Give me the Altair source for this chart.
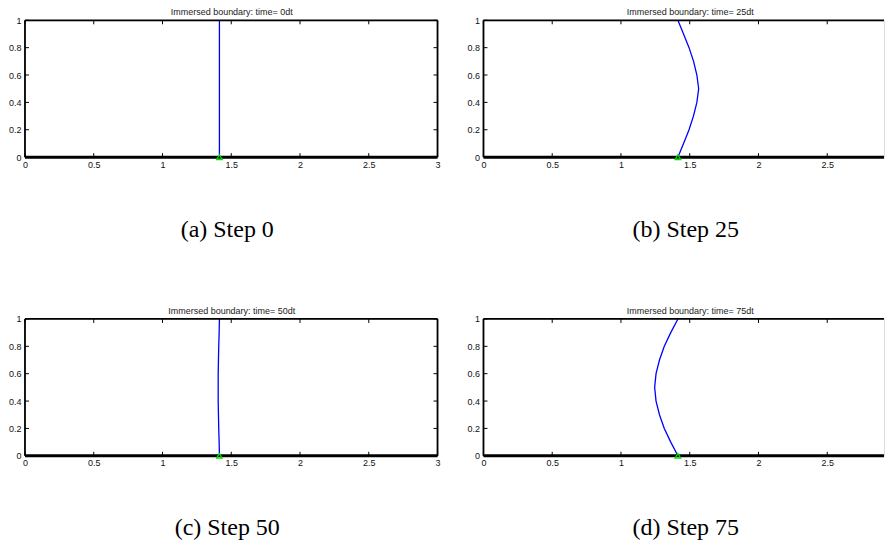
import altair as alt
import pandas as pd

# ---- data ----
y_nodes = [0.0, 0.1, 0.2, 0.3, 0.4, 0.5, 0.6, 0.7, 0.8, 0.9, 1.0]
x_step0 = [1.414, 1.414, 1.414, 1.414, 1.414, 1.414, 1.414, 1.414, 1.414, 1.414, 1.414]
x_step25 = [1.414, 1.455, 1.495, 1.527, 1.552, 1.565, 1.552, 1.528, 1.495, 1.455, 1.414]
x_step50 = [1.414, 1.412, 1.409, 1.407, 1.405, 1.405, 1.405, 1.407, 1.409, 1.412, 1.414]
x_step75 = [1.414, 1.362, 1.315, 1.280, 1.255, 1.245, 1.255, 1.280, 1.315, 1.362, 1.414]
anchor_x = [1.414]
anchor_y = [0.0]

titles = ["Immersed boundary: time= 0dt", "Immersed boundary: time= 25dt",
          "Immersed boundary: time= 50dt", "Immersed boundary: time= 75dt"]
captions = ["(a) Step 0", "(b) Step 25", "(c) Step 50", "(d) Step 75"]
x_ticks = [0, 0.5, 1, 1.5, 2, 2.5, 3]
y_ticks = [0, 0.2, 0.4, 0.6, 0.8, 1]

W, H = 413, 137
PX_PER_UNIT = W / 3.0
W_RIGHT = 401  # right column is cut off by the page edge in the reference
SANS = "Liberation Sans"
SERIF = "Liberation Serif"


def panel(xs, title, caption, cut=False):
    w = W_RIGHT if cut else W
    xmax = w / PX_PER_UNIT if cut else 3
    df = pd.DataFrame({"x": xs, "y": y_nodes})
    xsc = alt.Scale(domain=[0, xmax], nice=False, zero=False)
    ysc = alt.Scale(domain=[0, 1], nice=False, zero=False)
    xv = [v for v in x_ticks if v <= xmax]
    xax = alt.Axis(
        values=xv, format="~g", ticks=False, domain=False, grid=False,
        labelFont=SANS, labelFontSize=9, labelColor="#111", labelPadding=3,
        labelFlush=False, labelOverlap=False,
        title=caption, titleFont=SERIF, titleFontSize=24, titleFontWeight="normal",
        titleColor="#000", titlePadding=48, titleX=202, titleAnchor="start",
        titleAlign="center")
    yax = alt.Axis(
        values=y_ticks, format="~g", ticks=False, domain=False, grid=False,
        labelFont=SANS, labelFontSize=9, labelColor="#111", labelPadding=4,
        labelFlush=False, labelOverlap=False, title=None,
        minExtent=17, maxExtent=17)
    X = lambda: alt.X("x:Q", scale=xsc, axis=xax)
    Y = lambda: alt.Y("y:Q", scale=ysc, axis=yax)

    line = alt.Chart(df).mark_line(color="#0000ff", strokeWidth=1.3).encode(
        x=X(), y=Y(), order="y:Q")
    xt = pd.DataFrame({"x": xv})
    yt = pd.DataFrame({"y": y_ticks})
    tk = dict(color="#000", strokeWidth=1)
    one = pd.DataFrame({"a": [0]})
    layers = [line]
    layers.append(alt.Chart(xt).mark_rule(**tk).encode(x=X(), y=alt.value(H), y2=alt.value(H - 4)))
    layers.append(alt.Chart(xt).mark_rule(**tk).encode(x=X(), y=alt.value(0), y2=alt.value(4)))
    layers.append(alt.Chart(yt).mark_rule(**tk).encode(y=Y(), x=alt.value(0), x2=alt.value(4)))
    border = dict(color="#000", strokeWidth=1.8)
    layers.append(alt.Chart(one).mark_rule(**border).encode(
        x=alt.value(0), x2=alt.value(w), y=alt.value(0)))
    layers.append(alt.Chart(one).mark_rule(**border).encode(
        x=alt.value(0), y=alt.value(0), y2=alt.value(H)))
    if not cut:
        layers.append(alt.Chart(yt).mark_rule(**tk).encode(
            y=Y(), x=alt.value(w), x2=alt.value(w - 4)))
        layers.append(alt.Chart(one).mark_rule(**border).encode(
            x=alt.value(w), y=alt.value(0), y2=alt.value(H)))
    layers.append(alt.Chart(one).mark_rule(color="#000", strokeWidth=3).encode(
        x=alt.value(0), x2=alt.value(w), y=alt.value(H)))
    layers.append(alt.Chart(pd.DataFrame({"x": anchor_x, "y": anchor_y})).mark_point(
        shape="triangle-up", filled=False, color="#00dd00", size=30, strokeWidth=1.3,
        opacity=1).encode(x=X(), y=Y()))
    return alt.layer(*layers).properties(
        width=w, height=H,
        title=alt.TitleParams(title, font=SANS, fontSize=9, fontWeight="normal",
                              color="#222", offset=-1, anchor="start", frame="group",
                              dx=207, align="center"))


charts = [panel(x_step0, titles[0], captions[0]),
          panel(x_step25, titles[1], captions[1], cut=True),
          panel(x_step50, titles[2], captions[2]),
          panel(x_step75, titles[3], captions[3], cut=True)]

chart = alt.concat(*charts, columns=2, spacing=alt.RowColnumber(row=162, column=46),
                   bounds="flush").properties(
    padding={"left": -1, "top": -1, "right": 0, "bottom": 0}
).configure_view(stroke=None).configure(background="white")

chart.save("out.html", embed_options={"renderer": "svg", "actions": False})
